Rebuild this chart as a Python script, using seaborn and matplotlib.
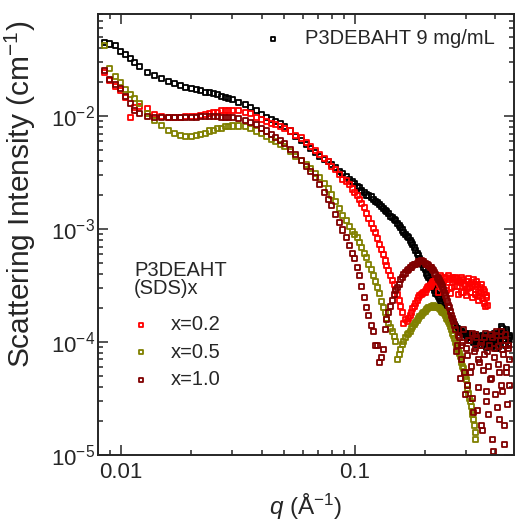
import matplotlib
matplotlib.use("Agg")
import matplotlib.pyplot as plt
import matplotlib.ticker as mticker
import seaborn as sns

# shared q grid (1/A)
q = [0.0085, 0.009, 0.0095, 0.010, 0.0105, 0.011, 0.0115, 0.012, 0.013, 0.014, 0.015, 0.016, 0.017, 0.018, 0.019, 0.020,
     0.021, 0.022, 0.023, 0.024, 0.025, 0.026, 0.027, 0.028, 0.029, 0.030, 0.032, 0.034, 0.036, 0.038, 0.040, 0.042,
     0.044, 0.046, 0.048, 0.050,
     0.053, 0.056, 0.059, 0.062, 0.065, 0.068, 0.071, 0.074, 0.077, 0.080, 0.083, 0.086, 0.089, 0.092, 0.095, 0.098,
     0.100, 0.105, 0.110, 0.115, 0.120, 0.125, 0.130, 0.135, 0.140, 0.145, 0.150, 0.155, 0.160, 0.165, 0.170, 0.175,
     0.180, 0.185, 0.190, 0.195, 0.200, 0.205, 0.210, 0.215, 0.220, 0.225, 0.230, 0.235, 0.240, 0.245, 0.250, 0.255,
     0.260, 0.265, 0.270, 0.275, 0.280, 0.285, 0.290, 0.295, 0.300, 0.305, 0.310, 0.315, 0.320, 0.325, 0.330, 0.335,
     0.340, 0.345, 0.350, 0.355, 0.360, 0.365, 0.370, 0.375, 0.380, 0.385, 0.390, 0.395, 0.400, 0.405, 0.410, 0.415,
     0.420, 0.425, 0.430, 0.435, 0.440, 0.445, 0.450, 0.455, 0.460]

# second (interleaved) q points of the high-q detector range
q_mid = [0.1025, 0.1075, 0.1125, 0.1175, 0.1225, 0.1275, 0.1325, 0.1375, 0.1425, 0.1475, 0.1525, 0.1575, 0.1625,
         0.1675, 0.1725, 0.1775, 0.1825, 0.1875, 0.1925, 0.1975, 0.2025, 0.2075, 0.2125, 0.2175, 0.2225, 0.2275,
         0.2325, 0.2375, 0.2425, 0.2475, 0.2525, 0.2575, 0.2625, 0.2675, 0.2725, 0.2775, 0.2825, 0.2875, 0.2925,
         0.2975, 0.3025, 0.3075, 0.3125, 0.3175, 0.3225, 0.3275, 0.3325, 0.3375, 0.3425, 0.3475, 0.3525, 0.3575,
         0.3625, 0.3675, 0.3725, 0.3775, 0.3825, 0.3875, 0.3925, 0.3975, 0.4025, 0.4075, 0.4125, 0.4175, 0.4225,
         0.4275, 0.4325, 0.4375, 0.4425, 0.4475, 0.4525, 0.4575]

# P3DEBAHT 9 mg/mL
i_black = [0.0443, 0.0434, 0.0417, 0.0376, 0.0347, 0.0320, 0.0300, 0.0277, 0.0245, 0.0230, 0.0217, 0.0204, 0.0196,
           0.0188, 0.0180, 0.0177,
           0.0170, 0.0167, 0.0163, 0.0160, 0.0157, 0.0154, 0.0150, 0.0147, 0.0144, 0.0139, 0.0133, 0.0126, 0.0118,
           0.0111, 0.0104, 0.00980, 0.00941, 0.00903, 0.00850, 0.00800,
           0.00737, 0.00665, 0.00613, 0.00565, 0.00521, 0.00480, 0.00442, 0.00416, 0.00392, 0.00369, 0.00347,
           0.00326, 0.00307, 0.00289, 0.00272, 0.00261,
           0.00251, 0.00231, 0.00212, 0.00196, 0.00184, 0.00170, 0.00157, 0.00147, 0.00138, 0.00127, 0.00118,
           0.00108, 0.000980, 0.000903, 0.000833, 0.000753, 0.000680, 0.000613, 0.000543, 0.000481, 0.000434,
           0.000384, 0.000347, 0.000313, 0.000283, 0.000261, 0.000241, 0.000221, 0.000204, 0.000188, 0.000173,
           0.000163, 0.000154, 0.000145, 0.000136, 0.000131, 0.000125, 0.000123, 0.000120, 0.000118, 0.000113,
           0.000116, 0.000111, 0.000113, 0.000109, 0.000104, 0.000111, 0.000107, 0.000102, 0.000109, 0.000104,
           0.0000978, 0.000107, 0.000102, 0.0000958, 0.000104, 0.000109, 0.0000978, 0.0000939, 0.000104, 0.000111,
           0.0000998, 0.0000920, 0.000109, 0.000123, 0.000113, 0.000131, 0.000118, 0.000104, 0.000125, 0.000113,
           0.0000978, 0.000109]
i_black_mid = [0.00236, 0.00221, 0.00200, 0.00192, 0.00174, 0.00164, 0.00151, 0.00144, 0.00130, 0.00122, 0.00111,
               0.00104, 0.000922, 0.000867, 0.000784, 0.000723, 0.000639, 0.000577, 0.000500, 0.000461, 0.000400,
               0.000369, 0.000326, 0.000301, 0.000266, 0.000251, 0.000226, 0.000212, 0.000192, 0.000181, 0.000167,
               0.000160, 0.000148, 0.000142, 0.000131, 0.000128, 0.000123, 0.000123, 0.000118, 0.000116,
               0.000109, 0.000120, 0.000104, 0.000113, 0.0000998, 0.000116, 0.0000958, 0.000111, 0.000104,
               0.0000939, 0.000113, 0.0000998, 0.000107, 0.0000902, 0.000113, 0.000102, 0.0000920, 0.000107,
               0.0000978, 0.000118, 0.0000884, 0.000104, 0.000116, 0.000107, 0.000136, 0.000111, 0.0000958,
               0.000120, 0.0000939, 0.000128, 0.000104, 0.000113]

# P3DEAHT(SDS)x, x = 0.2
i_red = [0.0245, 0.0208, 0.0184, 0.0167, 0.0147, 0.00980, 0.0118, 0.0121, 0.0116, 0.0104, 0.0100, 0.00980, 0.00980,
         0.00980, 0.0100, 0.0100,
         0.0100, 0.0102, 0.0104, 0.0106, 0.0108, 0.0108, 0.0111, 0.0111, 0.0111, 0.0111, 0.0111, 0.0108, 0.0106,
         0.00980, 0.00941, 0.00903, 0.00866, 0.00833, 0.00800, 0.00768,
         0.00737, 0.00679, 0.00639, 0.00588, 0.00542, 0.00500, 0.00461, 0.00425, 0.00392, 0.00361, 0.00333,
         0.00301, 0.00277, 0.00266, 0.00246, 0.00226,
         0.00212, 0.00181, 0.00154, 0.00125, 0.00102, 0.000816, 0.000652, 0.000521, 0.000425, 0.000347, 0.000289,
         0.000235, 0.000184, 0.000157, 0.000163, 0.000184, 0.000208, 0.000235, 0.000256, 0.000266, 0.000277,
         0.000301, 0.000313, 0.000333, 0.000340, 0.000354, 0.000326, 0.000369, 0.000340, 0.000376, 0.000333,
         0.000361, 0.000301, 0.000354, 0.000369, 0.000313, 0.000347, 0.000277, 0.000354, 0.000326, 0.000256,
         0.000340, 0.000301, 0.000333, 0.000246, 0.000320, 0.000289, 0.000326, 0.000235, 0.000301, 0.000272,
         0.000289, 0.000221, 0.000256, 0.000212]
i_red_mid = [0.00196, 0.00167, 0.00138, 0.00113, 0.000922, 0.000723, 0.000589, 0.000471, 0.000384, 0.000320,
             0.000261, 0.000208, 0.000145, 0.000151, 0.000173, 0.000196, 0.000221, 0.000246, 0.000261, 0.000272,
             0.000289, 0.000307, 0.000326, 0.000340, 0.000347, 0.000277, 0.000384, 0.000295, 0.000361, 0.000283,
             0.000384, 0.000266, 0.000369, 0.000307, 0.000361, 0.000261, 0.000333, 0.000376, 0.000272, 0.000313,
             0.000295, 0.000361, 0.000272, 0.000307, 0.000354, 0.000261, 0.000340, 0.000277, 0.000251, 0.000320,
             0.000241, 0.000277, 0.000208, 0.000246]

# x = 0.5
i_olive = [0.0425, 0.0266, 0.0226, 0.0200, 0.0170, 0.0154, 0.0142, 0.0128, 0.0106, 0.00922, 0.00832, 0.00752,
           0.00707, 0.00679, 0.00665, 0.00665,
           0.00679, 0.00693, 0.00707, 0.00737, 0.00752, 0.00768, 0.00783, 0.00800, 0.00800, 0.00816, 0.00816,
           0.00800, 0.00783, 0.00737, 0.00707, 0.00665, 0.00626, 0.00600, 0.00565, 0.00532,
           0.00490, 0.00442, 0.00408, 0.00376, 0.00340, 0.00313, 0.00283, 0.00251, 0.00226, 0.00200, 0.00174,
           0.00151, 0.00133, 0.00118, 0.00106, 0.000960,
           0.000903, 0.000753, 0.000613, 0.000490, 0.000384, 0.000301, 0.000230, 0.000181, 0.000145, 0.000123,
           0.000102, 0.0000768, 0.0000958, 0.000109, 0.000120, 0.000131, 0.000142, 0.000154, 0.000167, 0.000177,
           0.000188, 0.000196, 0.000204, 0.000208, 0.000208, 0.000204, 0.000196, 0.000188, 0.000181, 0.000170,
           0.000157, 0.000145, 0.000128, 0.000113, 0.0000998, 0.0000884, 0.0000783, 0.0000693, 0.0000613,
           0.0000542, 0.0000461, 0.0000376, 0.0000319, 0.0000266, 0.0000230, 0.0000184, 0.0000136]
i_olive_mid = [0.000833, 0.000680, 0.000554, 0.000434, 0.000340, 0.000266, 0.000204, 0.000160, 0.000133, 0.000111,
               0.0000693, 0.0000850, 0.000102, 0.000116, 0.000125, 0.000136, 0.000148, 0.000160, 0.000173,
               0.000184, 0.000192, 0.000200, 0.000208, 0.000212, 0.000204, 0.000200, 0.000192, 0.000184, 0.000177,
               0.000163, 0.000151, 0.000136, 0.000120, 0.000107, 0.0000939, 0.0000833, 0.0000737, 0.0000652,
               0.0000577, 0.0000500, 0.0000416, 0.0000347, 0.0000295, 0.0000245, 0.0000208, 0.0000159]

# x = 1.0
i_maroon = [0.0255, 0.0212, 0.0192, 0.0177, 0.0150, 0.0128, 0.0113, 0.0106, 0.0100, 0.00980, 0.00980, 0.00980,
            0.00980, 0.00980, 0.00980, 0.00980,
            0.00980, 0.0100, 0.0100, 0.0100, 0.0100, 0.0100, 0.00980, 0.00980, 0.00980, 0.00980, 0.00960,
            0.00922, 0.00885, 0.00833, 0.00783, 0.00737, 0.00693, 0.00652, 0.00613, 0.00577,
            0.00510, 0.00452, 0.00400, 0.00361, 0.00320, 0.00283, 0.00246, 0.00212, 0.00184, 0.00160, 0.00135,
            0.00115, 0.000980, 0.000833, 0.000708, 0.000601,
            0.000543, 0.000384, 0.000246, 0.000170, 0.000123, 0.0000939, 0.0000722, 0.000128, 0.000184, 0.000235,
            0.000283, 0.000326, 0.000376, 0.000408, 0.000434, 0.000461, 0.000481, 0.000500, 0.000511, 0.000511,
            0.000500, 0.000481, 0.000461, 0.000434, 0.000408, 0.000376, 0.000347, 0.000320, 0.000289, 0.000256,
            0.000226, 0.000200, 0.000173, 0.000151,
            0.000128, 0.0000939, 0.000109, 0.0000693, 0.0000998, 0.0000542, 0.0000884, 0.0000416, 0.000104,
            0.0000613, 0.0000319, 0.0000816, 0.000116, 0.0000250, 0.0000693, 0.0000939, 0.0000184, 0.0000565,
            0.000109, 0.0000361, 0.0000816, 0.0000226, 0.000116, 0.0000480, 0.0000136, 0.0000884, 0.0000340,
            0.000123, 0.0000626, 0.0000204, 0.000104, 0.0000416, 0.0000850, 0.0000123, 0.000116, 0.0000542,
            0.0000277, 0.0000939, 0.0000693]
i_maroon_mid = [0.000461, 0.000307, 0.000200, 0.000139, 0.0000939, 0.0000665, 0.0000850, 0.000157, 0.000208,
                0.000261, 0.000301, 0.000354, 0.000392, 0.000425, 0.000452, 0.000471, 0.000490, 0.000511,
                0.000521, 0.000511, 0.000490, 0.000471, 0.000452, 0.000425, 0.000392, 0.000361, 0.000333,
                0.000307, 0.000272, 0.000241, 0.000212, 0.000188, 0.000163, 0.000139,
                0.0000816, 0.000113, 0.0000480, 0.0000939, 0.000128, 0.0000340, 0.0000752, 0.000104, 0.0000542,
                0.000120, 0.0000240, 0.0000884, 0.000109, 0.0000392, 0.0000665, 0.0000998, 0.0000166, 0.0000768,
                0.000118, 0.0000295, 0.0000613, 0.0000939, 0.0000461, 0.000109, 0.0000107, 0.0000722, 0.000113,
                0.0000261, 0.0000920, 0.0000542, 0.000125, 0.0000361, 0.0000768, 0.0000184, 0.000104, 0.0000589,
                0.0000884, 0.0000416]

series_labels = ["x=0.2", "x=0.5", "x=1.0"]
black_label = "P3DEBAHT 9 mg/mL"
legend_title = "P3DEAHT\n(SDS)x"
x_ticks = [0.01, 0.1]
x_tick_labels = ["0.01", "0.1"]

sns.set_style("ticks")
plt.rcParams["font.family"] = ["Liberation Sans", "DejaVu Sans"]
plt.rcParams["mathtext.fontset"] = "custom"
plt.rcParams["mathtext.rm"] = "Liberation Sans"
plt.rcParams["mathtext.it"] = "Liberation Sans:italic"

fig = plt.figure(figsize=(5.15, 5.22), dpi=100)
ax = fig.add_axes([0.1903, 0.1284, 0.8078, 0.8448])
ax.set_xscale("log")
ax.set_yscale("log")

colors = ["black", "#ff0000", "#808000", "#800000"]
main_sets = [i_black, i_red, i_olive, i_maroon]
mid_sets = [i_black_mid, i_red_mid, i_olive_mid, i_maroon_mid]
labels = [black_label] + series_labels
for vals, mids, c, lab in zip(main_sets, mid_sets, colors, labels):
    xs = q[:len(vals)] + q_mid[:len(mids)]
    ys = vals + mids
    sns.scatterplot(x=xs, y=ys, marker="s", s=13, color=c,
                    facecolor="none", edgecolor=c, linewidth=1.3,
                    label=lab, legend=False, ax=ax)

ax.set_xlim(0.008, 0.48)
ax.set_ylim(1e-5, 0.08)

# ticks
ax.xaxis.set_major_locator(mticker.FixedLocator(x_ticks))
ax.xaxis.set_major_formatter(mticker.FixedFormatter(x_tick_labels))
ax.xaxis.set_minor_locator(mticker.LogLocator(base=10, subs=range(2, 10), numticks=20))
ax.xaxis.set_minor_formatter(mticker.NullFormatter())
ax.yaxis.set_minor_locator(mticker.LogLocator(base=10, subs=range(2, 10), numticks=20))
ax.yaxis.set_minor_formatter(mticker.NullFormatter())
ax.tick_params(which="both", direction="in", top=True, right=True, width=1.1)
ax.tick_params(which="major", length=7, labelsize=16)
ax.tick_params(which="minor", length=3.6)
ax.tick_params(axis="x", pad=5)
ax.tick_params(axis="y", pad=2)
for sp in ax.spines.values():
    sp.set_linewidth(1.4)

ax.set_xlabel("$q$ (Å$^{-1}$)", fontsize=17.5)
ax.set_ylabel("Scattering Intensity (cm$^{-1}$)", fontsize=21.5)
ax.xaxis.set_label_coords(0.5, -0.083)
ax.yaxis.set_label_coords(-0.145, 0.59)

h = ax.collections
leg1 = ax.legend(handles=[h[0]], labels=[black_label], loc="upper left",
                 bbox_to_anchor=(0.404, 0.965), frameon=False, fontsize=14.5,
                 borderpad=0, borderaxespad=0, handlelength=0.7, handletextpad=1.25,
                 markerscale=0.75)
ax.add_artist(leg1)
ax.text(0.0865, 0.44, legend_title, transform=ax.transAxes, ha="left", va="top",
        fontsize=14.5, linespacing=0.95)
ax.legend(handles=list(h[1:4]), labels=series_labels, loc="upper left",
          bbox_to_anchor=(0.0865, 0.317), frameon=False, fontsize=14.5,
          borderpad=0, borderaxespad=0, handlelength=0.7, handletextpad=1.15,
          labelspacing=0.42, markerscale=0.75)

fig.savefig("out.png", dpi=100)
